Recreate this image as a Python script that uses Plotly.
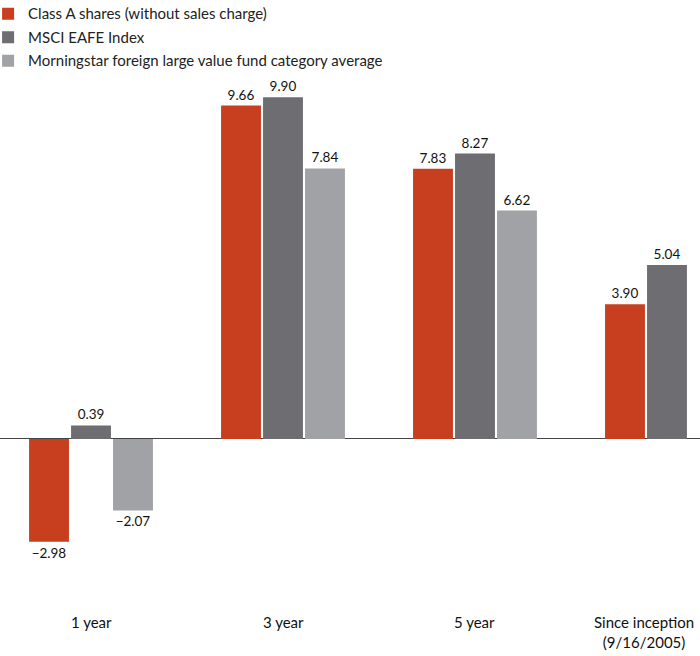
import plotly.graph_objects as go

categories = ["1 year", "3 year", "5 year", "Since inception<br>(9/16/2005)"]
series_names = [
    "Class A shares (without sales charge)",
    "MSCI EAFE Index",
    "Morningstar foreign large value fund category average",
]
class_a = [-2.98, 9.66, 7.83, 3.90]
msci = [0.39, 9.90, 8.27, 5.04]
morningstar = [-2.07, 7.84, 6.62, None]

colors = ["#C73F1F", "#6D6D72", "#A0A2A5"]
FONT = "Lato"

def fmt(v):
    if v is None:
        return ""
    return f"{v:.2f}".replace("-", "\u2212")

xs = list(range(len(categories)))
fig = go.Figure()
for i, (name, vals, col) in enumerate(zip(series_names, [class_a, msci, morningstar], colors)):
    fig.add_trace(go.Bar(
        x=xs, y=vals, name=name, marker=dict(color=col, line=dict(width=0)),
        text=[fmt(v) for v in vals], textposition="outside",
        textfont=dict(family=FONT, size=13.5, color="#111111"),
        cliponaxis=False, hoverinfo="skip", legendgroup=f"g{i}",
    ))

label_offsets = [0, 0, 0, -0.12]
for i, (c, off) in enumerate(zip(categories, label_offsets)):
    fig.add_annotation(
        x=i + off, y=-4.98, xref="x", yref="y", text=c, showarrow=False,
        yanchor="top", font=dict(family=FONT, size=15, color="#111111"),
    )

fig.update_layout(
    width=700, height=656,
    margin=dict(l=0, r=0, t=0, b=0, autoexpand=False),
    paper_bgcolor="white", plot_bgcolor="white",
    barmode="group", bargap=0.344, bargroupgap=0.05,
    showlegend=True,
    legend=dict(x=-0.017, y=1.004, xanchor="left", yanchor="top",
                font=dict(family=FONT, size=15, color="#222222"),
                bgcolor="rgba(0,0,0,0)", tracegroupgap=1, itemclick=False),
    xaxis=dict(range=[-0.474, 3.172], showticklabels=False, showgrid=False,
               zeroline=False, showline=False, ticks=""),
    yaxis=dict(range=[-6.29, 12.72], showticklabels=False, showgrid=False,
               zeroline=True, zerolinecolor="#444444", zerolinewidth=1,
               showline=False, ticks=""),
    font=dict(family=FONT),
)
fig.write_html("out.html", config={"displayModeBar": False},
               post_script="document.body.style.margin='0';")
